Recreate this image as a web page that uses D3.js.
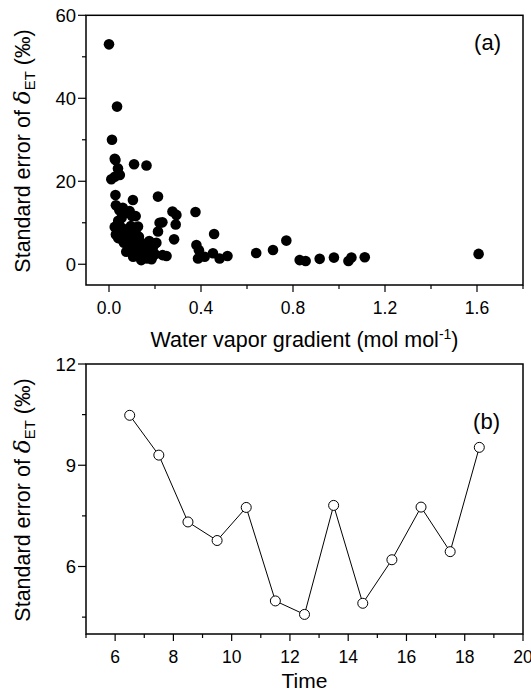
<!DOCTYPE html>
<html><head><meta charset="utf-8">
<script src="https://cdn.jsdelivr.net/npm/d3@7/dist/d3.min.js"></script>
<style>
body{margin:0;background:#fff;}
text{font-family:"Liberation Sans",Arial,sans-serif;fill:#000;}
</style></head>
<body>
<svg id="c" width="531" height="691"></svg>
<script>
// Panel (a): water vapor gradient vs standard error
const gradA = [0.000,0.035,0.013,0.025,0.109,0.163,0.028,0.039,0.047,0.010,0.025,0.028,0.104,0.213,
  0.030,0.045,0.060,0.075,0.090,0.100,0.116,0.055,0.040,0.126,
  0.025,0.035,0.030,0.045,0.050,0.060,0.070,0.040,0.055,0.065,0.080,0.090,0.100,0.110,0.085,0.095,0.105,0.120,0.130,0.140,0.115,0.125,0.135,0.150,0.155,0.145,0.165,0.170,0.180,0.190,0.200,0.160,0.175,0.105,0.140,0.185,0.075,0.120,0.095,0.200,0.206,0.220,0.213,0.233,
  0.276,0.293,0.232,0.290,0.376,0.283,0.457,0.250,0.380,0.391,0.387,0.416,0.452,0.481,0.515,
  0.640,0.713,0.771,0.829,0.855,0.916,0.978,1.041,1.054,1.112,1.607];
const seA = [53.0,38.0,30.0,25.4,24.1,23.8,25.1,23.1,21.5,20.5,21.1,16.7,15.5,16.3,
  14.2,13.0,13.6,12.4,12.8,11.6,11.6,11.2,10.5,9.1,
  9.0,8.2,7.2,9.5,7.8,8.6,7.0,6.3,6.0,5.2,6.5,7.6,6.0,8.0,4.6,3.8,5.0,4.4,6.6,5.2,3.0,2.0,3.6,4.0,2.6,1.6,1.4,3.2,2.0,3.8,2.4,4.8,5.6,1.8,1.0,1.2,3.0,7.2,9.2,5.0,5.2,10.0,7.9,2.2,
  12.7,11.9,10.1,9.6,12.6,6.0,7.3,2.0,4.65,3.4,1.4,1.8,2.65,1.4,2.0,
  2.7,3.45,5.7,1.0,0.8,1.3,1.6,0.8,1.6,1.7,2.5];
const xTicksA = [0.0,0.4,0.8,1.2,1.6];
const yTicksA = [0,20,40,60];

// Panel (b): time of day vs standard error
const timeB = [6.5,7.5,8.5,9.5,10.5,11.5,12.5,13.5,14.5,15.5,16.5,17.5,18.5];
const seB = [10.48,9.30,7.32,6.77,7.75,4.98,4.58,7.81,4.91,6.20,7.76,6.44,9.53];
const xTicksB = [6,8,10,12,14,16,18,20];
const yTicksB = [6,9,12];

const svg = d3.select("#c");
const L = 86, R = 523;

function frame(g, x, y, xt, xminor, yt, yminor, fmtX, fmtY){
  const [y0,y1] = y.range();
  const top = Math.min(y0,y1), bot = Math.max(y0,y1);
  g.append("rect").attr("x",L).attr("y",top).attr("width",R-L).attr("height",bot-top)
    .attr("fill","none").attr("stroke","#000").attr("stroke-width",1.5);
  xminor.forEach(v=>g.append("line").attr("x1",x(v)).attr("x2",x(v)).attr("y1",bot).attr("y2",bot+4).attr("stroke","#000").attr("stroke-width",1.2));
  xt.forEach(v=>{
    g.append("line").attr("x1",x(v)).attr("x2",x(v)).attr("y1",bot).attr("y2",bot+7).attr("stroke","#000").attr("stroke-width",1.2);
    g.append("text").attr("x",x(v)).attr("y",bot+29).attr("text-anchor","middle").attr("font-size",17.5).text(fmtX(v));
  });
  yminor.forEach(v=>g.append("line").attr("x1",L).attr("x2",L-4).attr("y1",y(v)).attr("y2",y(v)).attr("stroke","#000").attr("stroke-width",1.2));
  yt.forEach(v=>{
    g.append("line").attr("x1",L).attr("x2",L-8).attr("y1",y(v)).attr("y2",y(v)).attr("stroke","#000").attr("stroke-width",1.2);
    g.append("text").attr("x",L-10).attr("y",y(v)+6.5).attr("text-anchor","end").attr("font-size",18.5).text(fmtY(v));
  });
}

function yTitle(g, cy){
  const t = g.append("text").attr("transform",`translate(30,${cy}) rotate(-90)`).attr("text-anchor","middle").attr("font-size",21.5);
  t.append("tspan").text("Standard error of ");
  t.append("tspan").attr("font-style","italic").attr("font-family","'DejaVu Serif',serif").attr("font-size",23).text("δ");
  t.append("tspan").attr("font-size",15).attr("dy",5).text("ET");
  t.append("tspan").attr("dy",-5).text(" (‰)");
}

// Panel a
const xa = d3.scaleLinear().domain([-0.1,1.8]).range([L,R]);
const ya = d3.scaleLinear().domain([-5,60]).range([285,15.3]);
const ga = svg.append("g");
frame(ga, xa, ya, xTicksA, [0.2,0.6,1.0,1.4,1.8], yTicksA, [10,30,50], d3.format(".1f"), d3.format("d"));
ga.selectAll("circle").data(gradA).join("circle")
  .attr("cx",d=>xa(d)).attr("cy",(d,i)=>ya(seA[i])).attr("r",5.3).attr("fill","#000");
ga.append("text").attr("x",501).attr("y",50).attr("text-anchor","end").attr("font-size",22).text("(a)");
const ta = ga.append("text").attr("x",(L+R)/2).attr("y",347).attr("text-anchor","middle").attr("font-size",21.5);
ta.append("tspan").text("Water vapor gradient (mol mol");
ta.append("tspan").attr("font-size",14).attr("dy",-8).text("-1");
ta.append("tspan").attr("dy",8).text(")");
yTitle(ga, 151);

// Panel b
const xb = d3.scaleLinear().domain([5,20]).range([L,R]);
const yb = d3.scaleLinear().domain([4,12]).range([634,364]);
const gb = svg.append("g");
frame(gb, xb, yb, xTicksB, [5,7,9,11,13,15,17,19], yTicksB, [4.5,7.5,10.5], d3.format("d"), d3.format("d"));
const line = d3.line().x(d=>xb(d[0])).y(d=>yb(d[1]));
gb.append("path").datum(timeB.map((t,i)=>[t,seB[i]])).attr("d",line).attr("fill","none").attr("stroke","#000").attr("stroke-width",1);
gb.selectAll("circle").data(timeB).join("circle")
  .attr("cx",d=>xb(d)).attr("cy",(d,i)=>yb(seB[i])).attr("r",5).attr("fill","#fff").attr("stroke","#000").attr("stroke-width",1);
gb.append("text").attr("x",500).attr("y",429).attr("text-anchor","end").attr("font-size",22).text("(b)");
gb.append("text").attr("x",(L+R)/2).attr("y",688).attr("text-anchor","middle").attr("font-size",21).text("Time");
yTitle(gb, 500);
</script>
</body></html>
